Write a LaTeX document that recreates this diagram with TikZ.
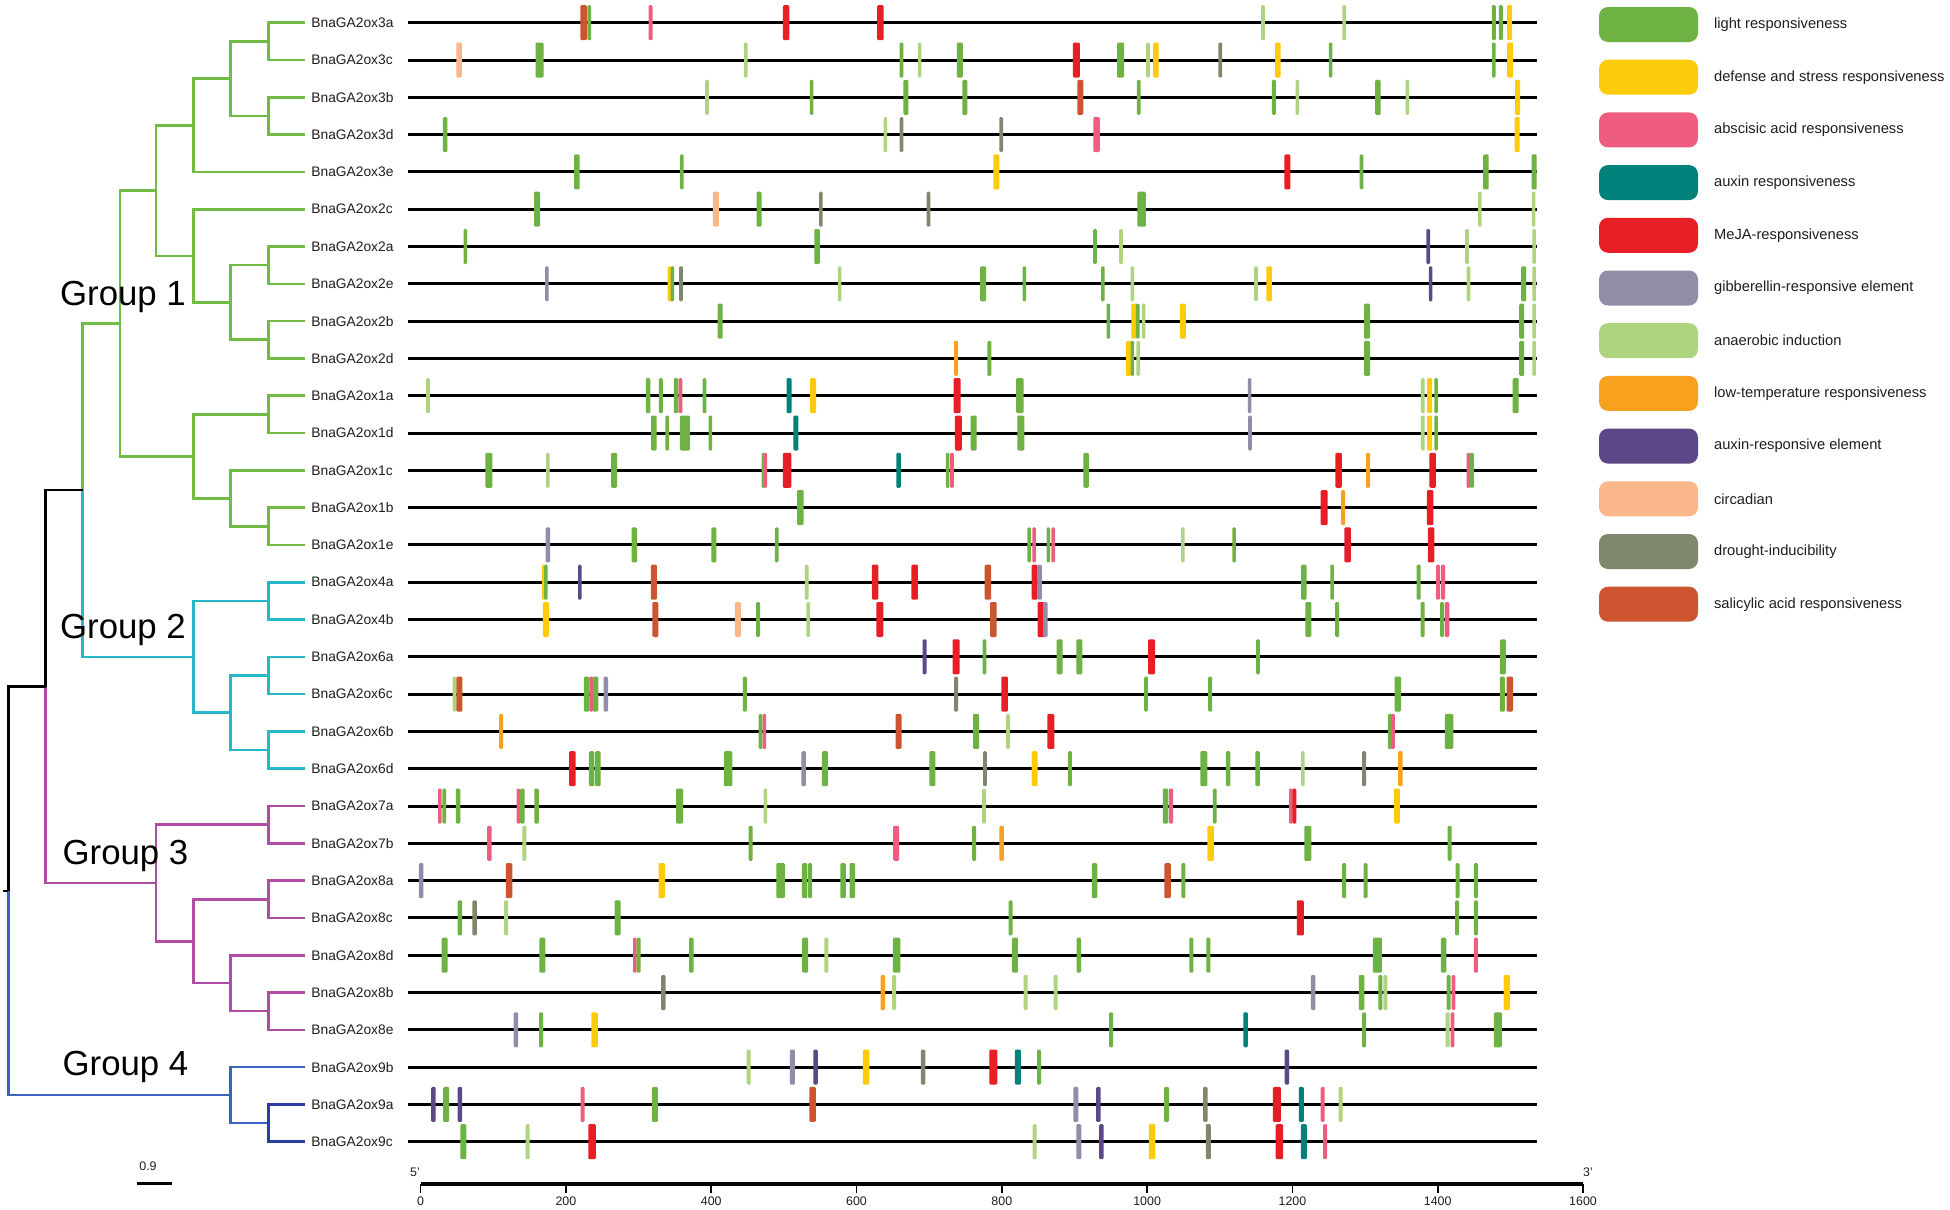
\documentclass[tikz,border=0pt]{standalone}
\usepackage{fontspec}
\setmainfont{Liberation Sans}
\usetikzlibrary{calc}
\definecolor{cG}{HTML}{6EB244}
\definecolor{cY}{HTML}{FDCB0A}
\definecolor{cP}{HTML}{EE5D7F}
\definecolor{cT}{HTML}{00827A}
\definecolor{cR}{HTML}{E81E26}
\definecolor{cV}{HTML}{918CA8}
\definecolor{cL}{HTML}{AED480}
\definecolor{cO}{HTML}{F7A11E}
\definecolor{cU}{HTML}{5C4887}
\definecolor{cC}{HTML}{F9B78A}
\definecolor{cD}{HTML}{7F876D}
\definecolor{cS}{HTML}{CC5530}
\definecolor{tgreen}{RGB}{112,188,66}
\definecolor{tcyan}{RGB}{38,184,200}
\definecolor{tmag}{RGB}{176,76,166}
\definecolor{tblue}{RGB}{58,98,190}
\definecolor{tblue2}{RGB}{40,62,160}
\definecolor{txt}{RGB}{30,30,30}
\pgfmathdeclarefunction{ry}{1}{\pgfmathparse{22.7+37.3*(#1-1)}}
\tikzset{
  geneline/.style={line width=1.5pt,black},
  treeline/.style={line width=1.3pt},
  genelabel/.style={anchor=west,inner sep=0pt,text=txt,font=\fontsize{6.9}{8}\selectfont},
  grouplabel/.style={anchor=west,inner sep=0pt,text=black,font=\fontsize{17.4}{20}\selectfont},
  legbox/.style={rectangle,rounded corners=4.5pt,minimum width=49.5pt,minimum height=17.5pt,inner sep=0pt},
  legtext/.style={anchor=west,inner sep=0pt,text=txt,font=\fontsize{7.35}{9}\selectfont},
  axlabel/.style={inner sep=0pt,text=txt,font=\fontsize{6.2}{7.5}\selectfont},
}
\newcommand\generow[2]{%
  \pgfmathsetmacro\gy{ry(#1)}%
  \coordinate (s#1) at (408,\gy);
  \coordinate (e#1) at (1537,\gy);
  \draw[geneline] (s#1) -- (e#1);
  \foreach \xx/\cc/\ww in {#2}{%
    \fill[\cc,rounded corners=0.6pt] ({\xx-\ww/2},{\gy-17.5}) rectangle ({\xx+\ww/2},{\gy+17.5});
  }%
}
\newcommand\edge[3]{\draw[treeline,#1] (#2) |- (#3);}
\begin{document}
\begin{tikzpicture}[x=0.5pt,y=-0.5pt]
\useasboundingbox (0,0) rectangle (1950,1210);
\fill[white] (0,0) rectangle (1950,1210);

% ---------- tree coordinates ----------
\foreach \i in {1,...,31} \coordinate (L\i) at (305,{ry(\i)});
\coordinate (A1) at (268.3,{ry(1.5)});
\coordinate (A2) at (268.3,{ry(3.5)});
\coordinate (B1) at (230.7,{ry(2.5)});
\coordinate (C1) at (193.3,{ry(3.75)});
\coordinate (A3) at (268.3,{ry(7.5)});
\coordinate (A4) at (268.3,{ry(9.5)});
\coordinate (B2) at (230.7,{ry(8.5)});
\coordinate (C2) at (193.3,{ry(7.25)});
\coordinate (D1) at (156,{ry(5.5)});
\coordinate (A5) at (268.3,{ry(11.5)});
\coordinate (A6) at (268.3,{ry(14.5)});
\coordinate (B3) at (230.7,{ry(13.75)});
\coordinate (C3) at (193.3,{ry(12.625)});
\coordinate (E1) at (120,{ry(9.0625)});
\coordinate (A7) at (268.3,{ry(16.5)});
\coordinate (A8) at (268.3,{ry(18.5)});
\coordinate (A9) at (268.3,{ry(20.5)});
\coordinate (B4) at (230.7,{ry(19.5)});
\coordinate (C4) at (193.3,{ry(18)});
\coordinate (F1) at (82.7,{ry(13.53125)});
\coordinate (A10) at (268.3,{ry(22.5)});
\coordinate (A11) at (268.3,{ry(24.5)});
\coordinate (A12) at (268.3,{ry(27.5)});
\coordinate (B5) at (230.7,{ry(26.75)});
\coordinate (C5) at (193.3,{ry(25.625)});
\coordinate (D2) at (156,{ry(24.0625)});
\coordinate (G1n) at (45.7,{ry(18.796875)});
\coordinate (A13) at (268.3,{ry(30.5)});
\coordinate (B6) at (230.7,{ry(29.75)});
\coordinate (Root) at (8.3,{ry(24.2734)});
\coordinate (Stub) at (3,{ry(24.2734)});

% group 1 (green)
\edge{tgreen}{A1}{L1} \edge{tgreen}{A1}{L2}
\edge{tgreen}{A2}{L3} \edge{tgreen}{A2}{L4}
\edge{tgreen}{B1}{A1} \edge{tgreen}{B1}{A2}
\edge{tgreen}{C1}{B1} \edge{tgreen}{C1}{L5}
\edge{tgreen}{A3}{L7} \edge{tgreen}{A3}{L8}
\edge{tgreen}{A4}{L9} \edge{tgreen}{A4}{L10}
\edge{tgreen}{B2}{A3} \edge{tgreen}{B2}{A4}
\edge{tgreen}{C2}{L6} \edge{tgreen}{C2}{B2}
\edge{tgreen}{D1}{C1} \edge{tgreen}{D1}{C2}
\edge{tgreen}{A5}{L11} \edge{tgreen}{A5}{L12}
\edge{tgreen}{A6}{L14} \edge{tgreen}{A6}{L15}
\edge{tgreen}{B3}{L13} \edge{tgreen}{B3}{A6}
\edge{tgreen}{C3}{A5} \edge{tgreen}{C3}{B3}
\edge{tgreen}{E1}{D1} \edge{tgreen}{E1}{C3}
\edge{tgreen}{F1}{E1}
% group 2 (cyan)
\edge{tcyan}{F1}{C4}
\edge{tcyan}{C4}{A7} \edge{tcyan}{C4}{B4}
\edge{tcyan}{A7}{L16} \edge{tcyan}{A7}{L17}
\edge{tcyan}{B4}{A8} \edge{tcyan}{B4}{A9}
\edge{tcyan}{A8}{L18} \edge{tcyan}{A8}{L19}
\edge{tcyan}{A9}{L20} \edge{tcyan}{A9}{L21}
% group 3 (magenta)
\edge{tmag}{G1n}{D2}
\edge{tmag}{D2}{A10} \edge{tmag}{D2}{C5}
\edge{tmag}{A10}{L22} \edge{tmag}{A10}{L23}
\edge{tmag}{C5}{A11} \edge{tmag}{C5}{B5}
\edge{tmag}{A11}{L24} \edge{tmag}{A11}{L25}
\edge{tmag}{B5}{L26} \edge{tmag}{B5}{A12}
\edge{tmag}{A12}{L27} \edge{tmag}{A12}{L28}
% group 4 (blue)
\edge{tblue}{Root}{B6}
\edge{tblue}{B6}{L29} \edge{tblue}{B6}{A13}
\edge{tblue2}{A13}{L30} \edge{tblue2}{A13}{L31}
% black backbone
\edge{black}{G1n}{F1}
\edge{black}{Root}{G1n}
\draw[treeline,black] (Stub) -- (Root);

% group labels
\node[grouplabel] (g1) at (59.7,297) {Group 1};
\node[grouplabel] (g2) at (59.7,630) {Group 2};
\node[grouplabel] (g3) at (62.2,856) {Group 3};
\node[grouplabel] (g4) at (62.2,1067) {Group 4};

% gene labels
\foreach \i/\n in {1/3a,2/3c,3/3b,4/3d,5/3e,6/2c,7/2a,8/2e,9/2b,10/2d,11/1a,12/1d,13/1c,14/1b,15/1e,16/4a,17/4b,18/6a,19/6c,20/6b,21/6d,22/7a,23/7b,24/8a,25/8c,26/8d,27/8b,28/8e,29/9b,30/9a,31/9c}
  \node[genelabel] (lab\i) at (311,{ry(\i)}) {BnaGA2ox\n};

% ---------- gene rows ----------
\generow{1}{583.5/cS/6.5,589.2/cG/3.6,650.5/cP/4,786.1/cR/6.5,880.4/cR/6.5,1263/cL/3.6,1344.1/cL/3.6,1493.8/cG/4,1500.8/cG/4,1509.7/cY/5}
\generow{2}{459/cC/5.5,539.5/cG/8,745.8/cL/3.6,901.5/cG/3.6,919.6/cL/3.6,959.9/cG/6,1076.3/cR/7,1120.5/cG/7,1148/cL/3.6,1155.9/cY/5.5,1220.2/cD/3.6,1277.9/cY/5.5,1330.6/cG/3.6,1493.8/cG/3.6,1510.2/cY/6}
\generow{3}{707/cL/3.6,811.6/cG/3.6,905.9/cG/5,964.8/cG/5,1080.3/cS/6,1138.7/cG/3.6,1273.9/cG/4,1297.3/cL/3.6,1377.9/cG/5.5,1407.3/cL/3.6,1517.7/cY/5}
\generow{4}{445.2/cG/4.5,885.3/cL/3.6,901.5/cD/3.6,1001.2/cD/3.6,1096.5/cP/6.5,1517.2/cY/5}
\generow{5}{576.8/cG/5.5,681.9/cG/3.6,996.3/cY/6,1287.4/cR/6,1361.5/cG/3.6,1485.9/cG/5.5,1534.1/cG/5}
\generow{6}{537/cG/6,715.8/cC/6,759/cG/5,820.9/cD/3.6,928.5/cD/3.6,1141.6/cG/8.5,1479.9/cL/3.6,1533.6/cL/3.6}
\generow{7}{465.3/cG/3.6,817/cG/5.5,1095/cG/3.6,1121/cL/3.6,1428.2/cU/3.6,1467/cL/3.6,1534.1/cL/3.6}
\generow{8}{546.9/cV/3.6,669.6/cY/4,672.3/cG/3.6,681/cD/3.6,839.6/cL/3.6,983/cG/6,1024.3/cG/3.6,1102.8/cG/3.6,1132.3/cL/3.6,1256/cL/3.6,1269/cY/5.5,1430.6/cU/3.6,1468.5/cL/3.6,1523.7/cG/5,1534.1/cL/3.6}
\generow{9}{720.2/cG/5,1108.3/cG/3.6,1133.8/cY/5,1137.7/cG/3.6,1143.6/cL/3.6,1182.9/cY/6,1367/cG/6,1521.7/cG/5,1534.1/cL/3.6}
\generow{10}{956/cO/4,989.4/cG/4,1128.4/cY/5,1132.3/cG/3.6,1138.2/cL/3.6,1367/cG/6,1521.7/cG/5,1534.1/cL/3.6}
\generow{11}{428/cL/3.6,648/cG/4.5,660.8/cG/4,676/cG/4.5,680.5/cP/3.6,704.5/cG/3.6,789/cT/5,813/cY/6,957/cR/7,1019.8/cG/7.5,1249.6/cV/3.6,1422.7/cL/3.6,1429.7/cY/5,1436.1/cG/3.6,1515.7/cG/6}
\generow{12}{653.9/cG/5.5,667.2/cG/3.6,684.9/cG/10,710.4/cG/3.6,795.9/cT/5,958.4/cR/7,973.7/cG/6,1020.8/cG/7,1250/cV/3.6,1422.7/cL/3.6,1429.7/cY/5,1436.1/cG/3.6}
\generow{13}{488.9/cG/7,547.8/cL/3.6,614.1/cG/6,763.5/cG/3.6,765.5/cP/3,787/cR/8.5,898.5/cT/4.5,947.6/cG/3.6,952/cP/3.6,1086.1/cG/5.5,1338.6/cR/6.5,1368/cO/4,1432.6/cR/6.5,1468.5/cP/4,1472/cG/3.6}
\generow{14}{800.3/cG/6.5,1324.2/cR/7,1343.1/cO/4,1430.1/cR/6.5}
\generow{15}{547.8/cV/4.5,634.3/cG/5.5,713.9/cG/5,776.7/cG/3.6,1029.2/cG/3.6,1034.1/cP/3.6,1048.3/cG/3.6,1053.2/cP/3.6,1182.9/cL/3.6,1234.1/cG/3.6,1347.6/cR/6.5,1431.1/cR/6.5}
\generow{16}{543.9/cY/4,545.9/cG/3.6,579.8/cU/3.6,653.9/cS/6,806.7/cL/3.6,875/cR/6.5,914.7/cR/6.5,987.9/cS/6.5,1034.6/cR/6,1039.5/cV/4.5,1303.8/cG/5.5,1332.1/cG/3.6,1418.7/cG/4,1438/cP/4,1443/cP/4}
\generow{17}{545.9/cY/6,655.4/cS/6,737.9/cC/6,758.1/cG/4,808.2/cL/3.6,879.9/cR/7,993.3/cS/6.5,1041/cR/7,1045.4/cV/4.5,1308.3/cG/6,1337.1/cG/4,1422.7/cG/4,1442.1/cG/4,1447.1/cP/4.5}
\generow{18}{924.5/cU/4,956/cR/7,984.5/cG/3.6,1059.6/cG/6,1079.3/cG/6,1151.5/cR/7,1258/cG/3.6,1502.8/cG/6}
\generow{19}{454.5/cL/3.6,459.4/cS/6,586.6/cG/5.5,591.1/cP/3.6,595.5/cG/5.5,605.8/cV/4.5,744.8/cG/4,956/cD/4,1004.6/cR/6.5,1146/cG/3.6,1210.2/cG/4,1397.8/cG/6.5,1502.3/cG/5,1509.8/cS/6.5}
\generow{20}{501.2/cO/4,760.5/cG/3.6,764.4/cP/3.6,898.5/cS/6,976.1/cG/6,1008/cL/3.6,1050.8/cR/7,1389.9/cG/4,1392.8/cP/4,1449/cG/8.5}
\generow{21}{572.4/cR/6.5,591.6/cG/5.5,597.9/cG/5.5,728.1/cG/8.5,803.7/cV/4.5,824.9/cG/6,932.4/cG/6,985/cD/3.6,1034.6/cY/6,1069.9/cG/4,1203.8/cG/7,1228.2/cG/4.5,1257.5/cG/4.5,1302.8/cL/3.6,1364/cD/4,1400.3/cO/4.5}
\generow{22}{439.8/cP/3.6,444.2/cG/3.6,458/cG/4.5,518.4/cP/3.6,522.3/cG/4.5,536.5/cG/4.5,679.5/cG/7,765.4/cL/3.6,984/cL/3.6,1165.5/cG/5.5,1171/cP/4,1214.7/cG/3.6,1290.8/cP/3.6,1294.3/cR/4,1396.8/cY/6}
\generow{23}{489.4/cP/4.5,524.3/cL/4,750.7/cG/4,896.1/cP/6,974.2/cG/4,1001.7/cO/4.5,1210.7/cY/6.5,1307.8/cG/7,1449.6/cG/4}
\generow{24}{421.1/cV/4.5,509/cS/6.5,661.8/cY/6.5,780.6/cG/8.5,804.7/cG/5.5,810.1/cG/4,843/cG/5.5,852.4/cG/5.5,1094.5/cG/5.5,1167.5/cS/6.5,1183.4/cG/4,1344.1/cG/4,1365.5/cG/4,1457.5/cG/4,1475.9/cG/4}
\generow{25}{459.9/cG/4.5,474.7/cD/4.5,506.1/cL/4,617.6/cG/6,1010.5/cG/4,1300.3/cR/7,1457/cG/4,1475.9/cG/4}
\generow{26}{444.7/cG/6,542.4/cG/6,634.8/cP/3.6,638.7/cG/4,691.3/cG/4.5,805.2/cG/6,826.3/cL/4,896.6/cG/7.5,1014.9/cG/6,1078.8/cG/4.5,1191.3/cG/4,1208.3/cG/4,1377.4/cG/9,1443.6/cG/5.5,1475.9/cP/4}
\generow{27}{663.3/cD/4.5,882.8/cO/4.5,894.1/cL/4,1025.7/cL/4,1055.7/cL/4,1313.2/cV/4.5,1361.5/cG/5.5,1380.4/cG/4,1385.4/cL/4,1448.6/cG/4,1453.5/cP/3.6,1506.8/cY/6.5}
\generow{28}{515.9/cV/4.5,541/cG/4,594.5/cY/6.5,1111.2/cG/4,1245.6/cT/4.5,1364/cG/4,1447.6/cL/4,1452.5/cP/3.6,1497.8/cG/8}
\generow{29}{748.7/cL/4,792.4/cV/5,815.5/cU/4.5,866.1/cY/6.5,923.1/cD/4.5,993.3/cR/8,1017.9/cT/6,1039/cG/4,1286.9/cU/4.5}
\generow{30}{433.4/cU/4.5,446.2/cG/6,459.9/cU/4.5,582.7/cP/4,654.9/cG/6,812.6/cS/6.5,1075.8/cV/5,1098.4/cU/4.5,1166.5/cG/5,1205.3/cD/4.5,1276.9/cR/8,1301.3/cT/5,1322.7/cP/4,1340.6/cL/4}
\generow{31}{463.4/cG/6,527.7/cL/4,592/cR/7.5,1034.6/cL/4,1078.8/cV/5,1101.4/cU/4.5,1152/cY/6.5,1208.3/cD/5,1279.4/cR/7.5,1303.8/cT/6,1325.2/cP/4}

% ---------- legend ----------
\foreach \i/\c/\t in {0/cG/light responsiveness,1/cY/defense and stress responsiveness,2/cP/abscisic acid responsiveness,3/cT/auxin responsiveness,4/cR/MeJA-responsiveness,5/cV/gibberellin-responsive element,6/cL/anaerobic induction,7/cO/low-temperature responsiveness,8/cU/auxin-responsive element,9/cC/circadian,10/cD/drought-inducibility,11/cS/salicylic acid responsiveness}{
  \node[legbox,fill=\c] (key\i) at (1648.5,{24.5+52.7*\i}) {};
  \node[legtext] (kt\i) at (1713.7,{24.5+52.7*\i}) {\t};
}

% ---------- axis ----------
\coordinate (ax0) at (420.6,1184);
\coordinate (ax1) at (1583,1184);
\draw[line width=1.7pt,black] (ax0) -- (ax1);
\foreach \k/\lab in {0/0,1/200,2/400,3/600,4/800,5/1000,6/1200,7/1400,8/1600}{
  \coordinate (tk\k) at ({420.6+145.3*\k},1184);
  \draw[line width=0.8pt] (tk\k) -- ++(0,9);
  \node[axlabel] (tl\k) at ({420.6+145.3*\k},1201) {\lab};
}
\node[axlabel] (five) at (415,1172) {5'};
\node[axlabel] (three) at (1588,1172) {3'};

% scale bar
\node[axlabel] (sbl) at (148,1166.5) {0.9};
\coordinate (sb0) at (137,1183);
\coordinate (sb1) at (172,1183);
\draw[line width=1.5pt] (sb0) -- (sb1);
\end{tikzpicture}
\end{document}
